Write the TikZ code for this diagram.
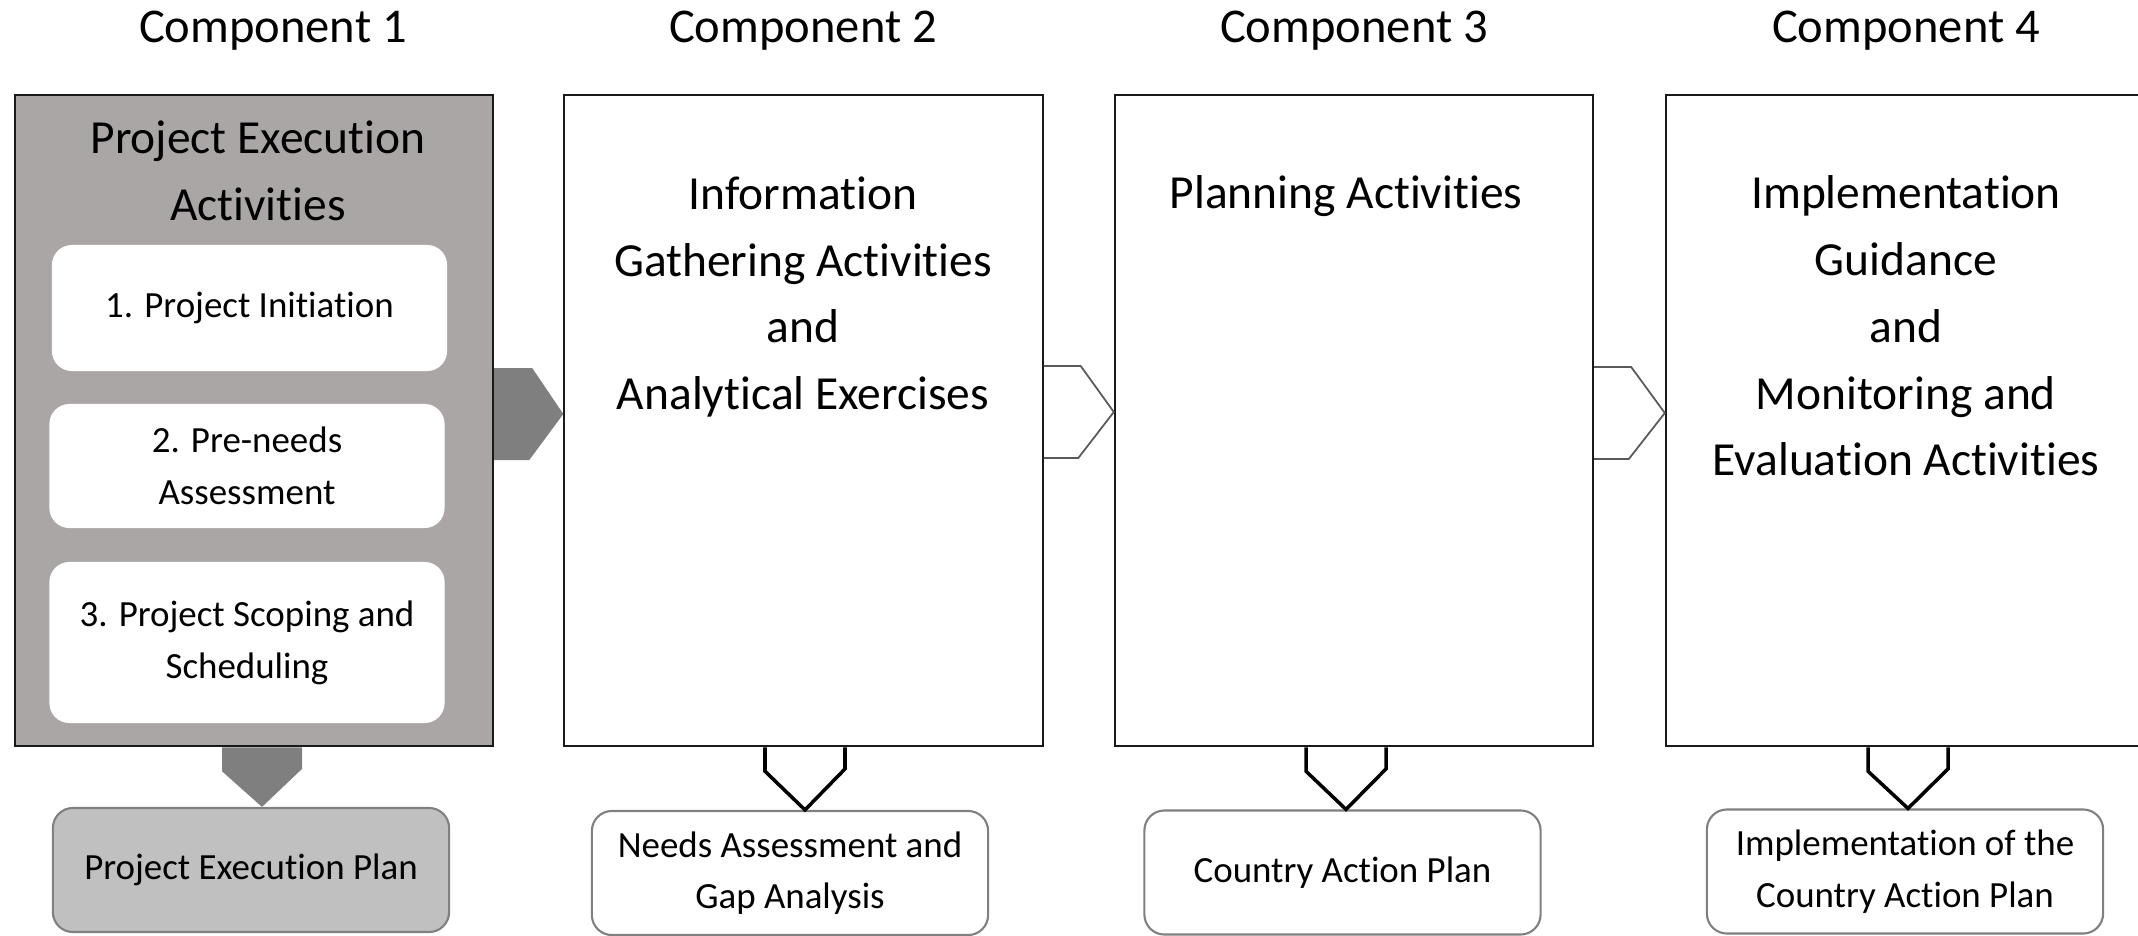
\documentclass[tikz,border=0pt]{standalone}
\usepackage{fontspec}
\setmainfont{Carlito}[Ligatures=NoCommon]
\definecolor{boxgray}{RGB}{170,166,166}
\definecolor{arrgray}{RGB}{127,127,127}
\definecolor{plangray}{RGB}{192,192,192}
\begin{document}
\begin{tikzpicture}[x=0.01cm, y=-0.01cm,
    comp/.style={draw=black!90, line width=0.6pt, minimum width=4.78cm, minimum height=6.51cm, inner sep=0pt},
    head/.style={font=\fontsize{13.8}{17}\selectfont},
    title/.style={align=center, font=\fontsize{13.5}{19}\selectfont},
    stepbox/.style={fill=white, rounded corners=0.2cm, minimum width=3.95cm, align=center, font=\fontsize{10.5}{14.7}\selectfont},
    plan/.style={draw=black!50, line width=0.6pt, rounded corners=0.2cm, minimum width=3.96cm, minimum height=1.24cm, align=center, font=\fontsize{10.5}{14.7}\selectfont},
    openarr/.style={draw=black!65, line width=0.5pt},
    downarr/.style={draw=black, line width=1pt}]
    \clip (0,0) rectangle (2138,936);

    % headings
    \node[head] (h1) at (273,31)  {Component 1};
    \node[head] (h2) at (803,31)  {Component 2};
    \node[head] (h3) at (1354,31) {Component 3};
    \node[head] (h4) at (1906,31) {Component 4};

    % the four components
    \node[comp, fill=boxgray] (c1) at (254,420.5) {};
    \node[comp] (c2) at (803.5,420.5) {};
    \node[comp] (c3) at (1354,420.5) {};
    \node[comp] (c4) at (1905,420.5) {};

    \node[title] (t1) at (258,171)   {Project Execution\\Activities};
    \node[title] (t2) at (803,297)   {Information\\Gathering Activities\\and\\Analytical Exercises};
    \node[title] (t3) at (1346,196)  {Planning Activities};
    \node[title] (t4) at (1906,326)  {Implementation\\Guidance\\and\\Monitoring and\\Evaluation Activities};

    \node[stepbox, minimum height=1.26cm] (s1) at (249.5,308) {1. Project Initiation};
    \node[stepbox, minimum height=1.24cm] (s2) at (247,466)   {2. Pre-needs\\Assessment};
    \node[stepbox, minimum height=1.61cm] (s3) at (247,642.5) {3. Project Scoping and\\Scheduling};

    % outputs
    \node[plan, fill=plangray] (p1) at (251,870) {Project Execution Plan};
    \node[plan] (p2) at (790,873)      {Needs Assessment and\\Gap Analysis};
    \node[plan] (p3) at (1342.5,872.5) {Country Action Plan};
    \node[plan] (p4) at (1905,871.5)   {Implementation of the\\Country Action Plan};

    % block arrows between components
    \fill[arrgray] (c1.east |- 0,368) -- ++(38,0) -- (c2.west |- 0,414) -- ++(-34,46) -- (c1.east |- 0,460) -- cycle;
    \draw[openarr] (c2.east |- 0,366) -- ++(37,0) -- (c3.west |- 0,412) -- ++(-35.5,46) -- (c2.east |- 0,458);
    \draw[openarr] (c3.east |- 0,367) -- ++(37,0) -- (c4.west |- 0,413) -- ++(-36,46) -- (c3.east |- 0,459);

    % block arrows down to the outputs
    \fill[arrgray] (c1.south -| 222,0) -- ++(0,24) -- (p1.north -| 262,0) -- ++(40,-38) -- (c1.south -| 302,0) -- cycle;
    \draw[downarr] (c2.south -| 765,0) -- ++(0,24) -- (p2.north -| 805,0) -- ++(40,-41) -- (c2.south -| 845,0);
    \draw[downarr] (c3.south -| 1306,0) -- ++(0,24) -- (p3.north -| 1346,0) -- ++(40,-40.5) -- (c3.south -| 1386,0);
    \draw[downarr] (c4.south -| 1868,0) -- ++(0,24) -- (p4.north -| 1908,0) -- ++(40,-39.5) -- (c4.south -| 1948,0);
\end{tikzpicture}
\end{document}
